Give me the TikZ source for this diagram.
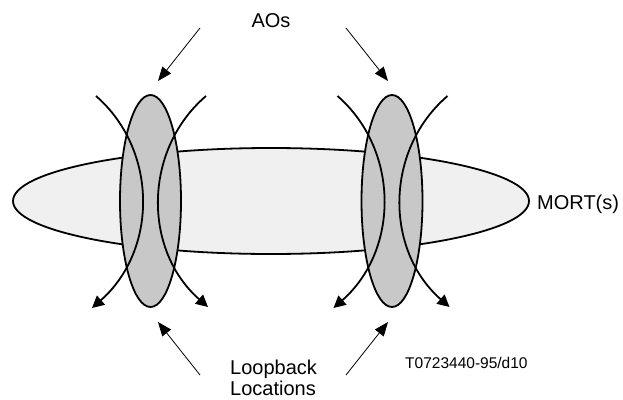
\documentclass[tikz,border=0pt]{standalone}
\usepackage{fontspec}
\setmainfont{Liberation Sans}
\usetikzlibrary{shapes.geometric}
\usetikzlibrary{positioning}
\usetikzlibrary{arrows.meta}

\definecolor{mortgray}{RGB}{240,240,240}
\definecolor{aogray}{RGB}{200,200,200}

\tikzset{
  loop arc/.style={line width=1.8pt, -{Triangle[length=12pt,width=12pt]}},
  pointer/.style={line width=0.8pt, -{Triangle[length=14pt,width=11pt]}},
  big label/.style={font=\fontsize{20}{21}\selectfont, inner sep=0pt},
  code label/.style={font=\fontsize{15.5}{17}\selectfont, inner sep=0pt}
}

\begin{document}
\begin{tikzpicture}[x=1pt, y=-1pt]
  \useasboundingbox (0,0) rectangle (623,399);

  \node [ellipse, draw=black, line width=1.8pt, fill=mortgray, inner sep=0pt, minimum width=516pt, minimum height=106pt] (mort) at (271,201) {};

  \foreach \name/\cx in {left/150.5, right/392} {
    \node [ellipse, draw=black, line width=1.8pt, fill=aogray, inner sep=0pt, minimum width=61pt, minimum height=212pt] (\name ao) at (\cx,201) {};
    \coordinate (\name in top) at (\cx-54.5,96);
    \coordinate (\name in tip) at (\cx-58.5,308);
    \coordinate (\name out top) at (\cx+55.5,96);
    \coordinate (\name out tip) at (\cx+57.5,307);
    \draw [loop arc] (\name in top) .. controls (\cx+7.5,150) and (\cx+7.5,250) .. (\name in tip);
    \draw [loop arc] (\name out top) .. controls (\cx-7.5,150) and (\cx-7.5,250) .. (\name out tip);
  }

  \node [big label, anchor=base] (aos) at (271,27) {AOs};
  \node [big label, anchor=base west] (mortlabel) at (537,209) {MORT(s)};
  \node [big label, anchor=north west, align=left] (loopback) at (230,360) {Loopback\\Locations};
  \node [code label, anchor=base west] (code) at (405,368) {T0723440-95/d10};

  \coordinate (aos left) at (200,28);
  \coordinate (aos right) at (346,28);
  \coordinate (aos left tip) at (158,81);
  \coordinate (aos right tip) at (388,81);
  \coordinate (loop left) at (200,375);
  \coordinate (loop right) at (346,375);
  \coordinate (loop left tip) at (158,322);
  \coordinate (loop right tip) at (388,322);

  \draw [pointer] (aos left) -- (aos left tip);
  \draw [pointer] (aos right) -- (aos right tip);
  \draw [pointer] (loop left) -- (loop left tip);
  \draw [pointer] (loop right) -- (loop right tip);
\end{tikzpicture}
\end{document}
